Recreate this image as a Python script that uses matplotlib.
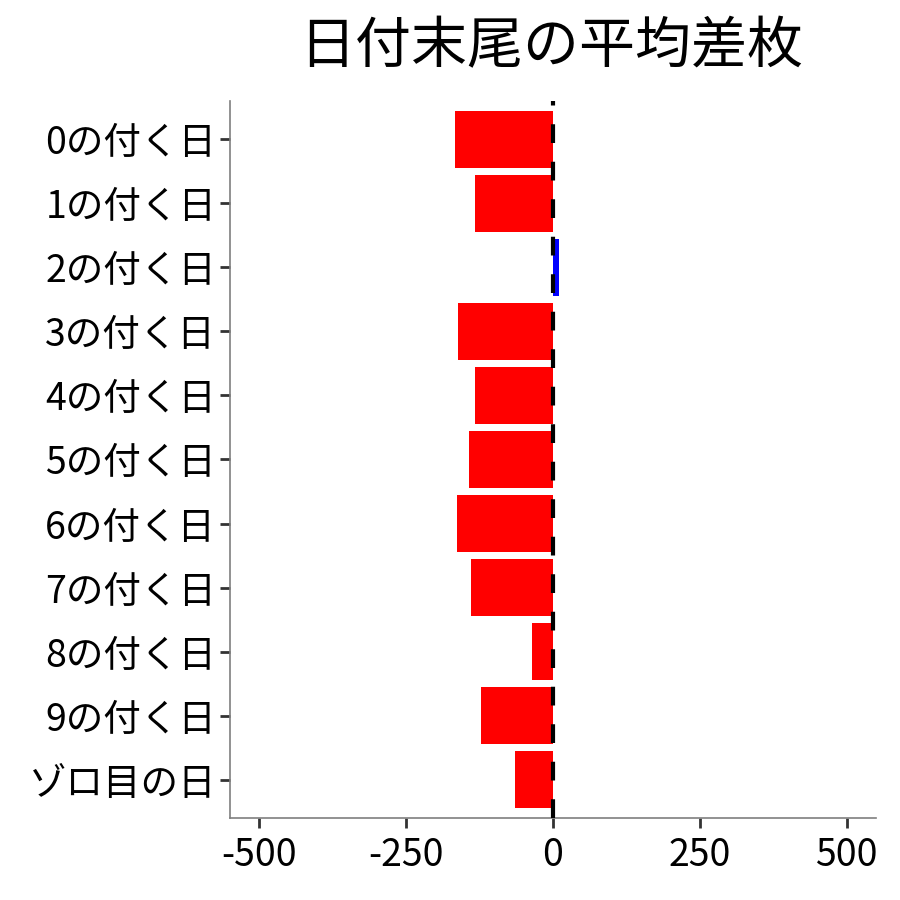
import matplotlib
matplotlib.use('Agg')
import matplotlib.pyplot as plt

plt.rcParams['font.family'] = ['Noto Sans CJK JP', 'DejaVu Sans']
plt.rcParams['axes.unicode_minus'] = False

# 日付末尾ごとの平均差枚
labels = ['0の付く日', '1の付く日', '2の付く日', '3の付く日', '4の付く日', '5の付く日',
          '6の付く日', '7の付く日', '8の付く日', '9の付く日', 'ゾロ目の日']
values = [-167, -133, 10, -161, -133, -143, -164, -140, -35, -123, -65]
colors = ['#FF0000' if v < 0 else '#0000FF' for v in values]

fig = plt.figure(figsize=(9, 9), dpi=100)
ax = fig.add_axes([0.2556, 0.0911, 0.7177, 0.7967])

pos = list(range(len(labels)))
ax.barh(pos, values, height=0.9, color=colors, zorder=2)
ax.axvline(0, color='black', linestyle=(0, (4.5, 4.5)), linewidth=3, zorder=3)

ax.set_yticks(pos, labels)
ax.set_ylim(len(labels) - 0.4, -0.6)
ax.set_xlim(-550, 550)
ax.set_xticks([-500, -250, 0, 250, 500])

for s in ['top', 'right']:
    ax.spines[s].set_visible(False)
for s in ['left', 'bottom']:
    ax.spines[s].set_color('#7F7F7F')
    ax.spines[s].set_linewidth(1.2)
ax.tick_params(axis='both', colors='#333333', length=7, width=2, labelsize=27,
               labelcolor='black', pad=3)
ax.tick_params(axis='x', pad=6)

fig.text(0.6125, 0.947, '日付末尾の平均差枚', ha='center', va='center', fontsize=40.3)

fig.savefig('out.png', dpi=100)
